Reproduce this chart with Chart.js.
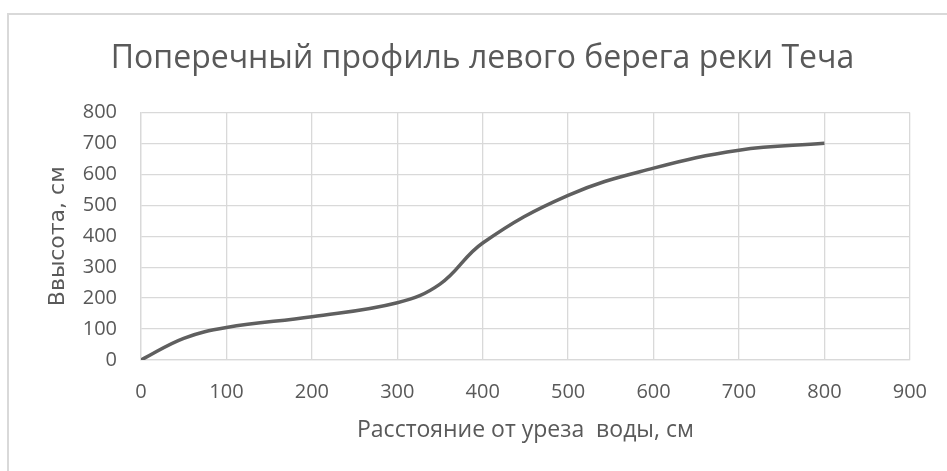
<!DOCTYPE html>
<html lang="ru">
<head>
    <meta charset="UTF-8">
    <meta name="viewport" content="width=device-width, initial-scale=1.0">
    <style>
        html, body { margin: 0; padding: 0; background: #fff; overflow: hidden; }
        .frame {
            position: absolute; left: 7px; top: 13px;
            width: 1000px; height: 600px;
            border: 2px solid #d9d9d9;
        }
        .chart-container {
            position: absolute; left: 0; top: 0;
            width: 947px; height: 471px;
        }
    </style>
</head>
<body>
<div class="frame"></div>
<div class="chart-container">
    <canvas id="chart"></canvas>
</div>

<script src="https://cdn.jsdelivr.net/npm/chart.js"></script>
<script>
    // Расстояние от уреза воды (см) и высота (см)
    const distance = [0, 50, 100, 200, 300, 350, 400, 500, 600, 700, 800];
    const height = [0, 70, 105, 140, 185, 245, 378, 532, 620, 678, 700];

    const xTicks = [0, 100, 200, 300, 400, 500, 600, 700, 800, 900];
    const yTicks = [0, 100, 200, 300, 400, 500, 600, 700, 800];

    const points = distance.map((x, i) => ({ x: x, y: height[i] }));

    const textColor = '#595959';
    const gridColor = '#d9d9d9';

    const ctx = document.getElementById('chart').getContext('2d');

    const config = {
        type: 'scatter',
        data: {
            datasets: [{
                label: 'Профиль',
                data: points,
                showLine: true,
                borderColor: '#5f5f5f',
                borderWidth: 3.5,
                pointRadius: 0,
                tension: 0.4,
                fill: false,
            }],
        },
        options: {
            responsive: true,
            maintainAspectRatio: false,
            animation: false,
            // left/right padding also centres the title where the reference has it
            layout: { padding: { left: 54, right: 36, top: 0, bottom: 0 } },
            plugins: {
                legend: { display: false },
                tooltip: { enabled: false },
                title: {
                    display: true,
                    text: 'Поперечный профиль левого берега реки Теча',
                    color: textColor,
                    font: { family: 'Open Sans', size: 32, weight: 'normal' },
                    padding: { top: 40, bottom: 34 },
                },
            },
            scales: {
                x: {
                    type: 'linear',
                    min: xTicks[0],
                    max: xTicks[xTicks.length - 1],
                    afterBuildTicks: (scale) => { scale.ticks = xTicks.map(v => ({ value: v })); },
                    afterFit: (scale) => { scale.height = 111; },
                    grid: { color: gridColor, lineWidth: 1.3, drawTicks: false },
                    border: { color: gridColor, width: 1.3 },
                    ticks: {
                        color: textColor,
                        padding: 20,
                        font: { family: 'Open Sans', size: 20 },
                    },
                    title: {
                        display: true,
                        text: 'Расстояние от уреза  воды, см',
                        color: textColor,
                        font: { family: 'Open Sans', size: 23 },
                        padding: { top: 0, bottom: 27 },
                    },
                },
                y: {
                    type: 'linear',
                    min: yTicks[0],
                    max: yTicks[yTicks.length - 1],
                    afterBuildTicks: (scale) => { scale.ticks = yTicks.map(v => ({ value: v })); },
                    afterFit: (scale) => { scale.width = 87; },
                    grid: { color: gridColor, lineWidth: 1.3, drawTicks: false },
                    border: { color: gridColor, width: 1.3 },
                    ticks: {
                        color: textColor,
                        padding: 24,
                        font: { family: 'Open Sans', size: 20 },
                    },
                    title: {
                        display: true,
                        text: 'Ввысота, см',
                        color: textColor,
                        font: { family: 'DejaVu Sans', size: 22 },
                        padding: { top: -9, bottom: 0 },
                    },
                },
            },
        },
    };

    const profileChart = new Chart(ctx, config);
</script>
</body>
</html>
